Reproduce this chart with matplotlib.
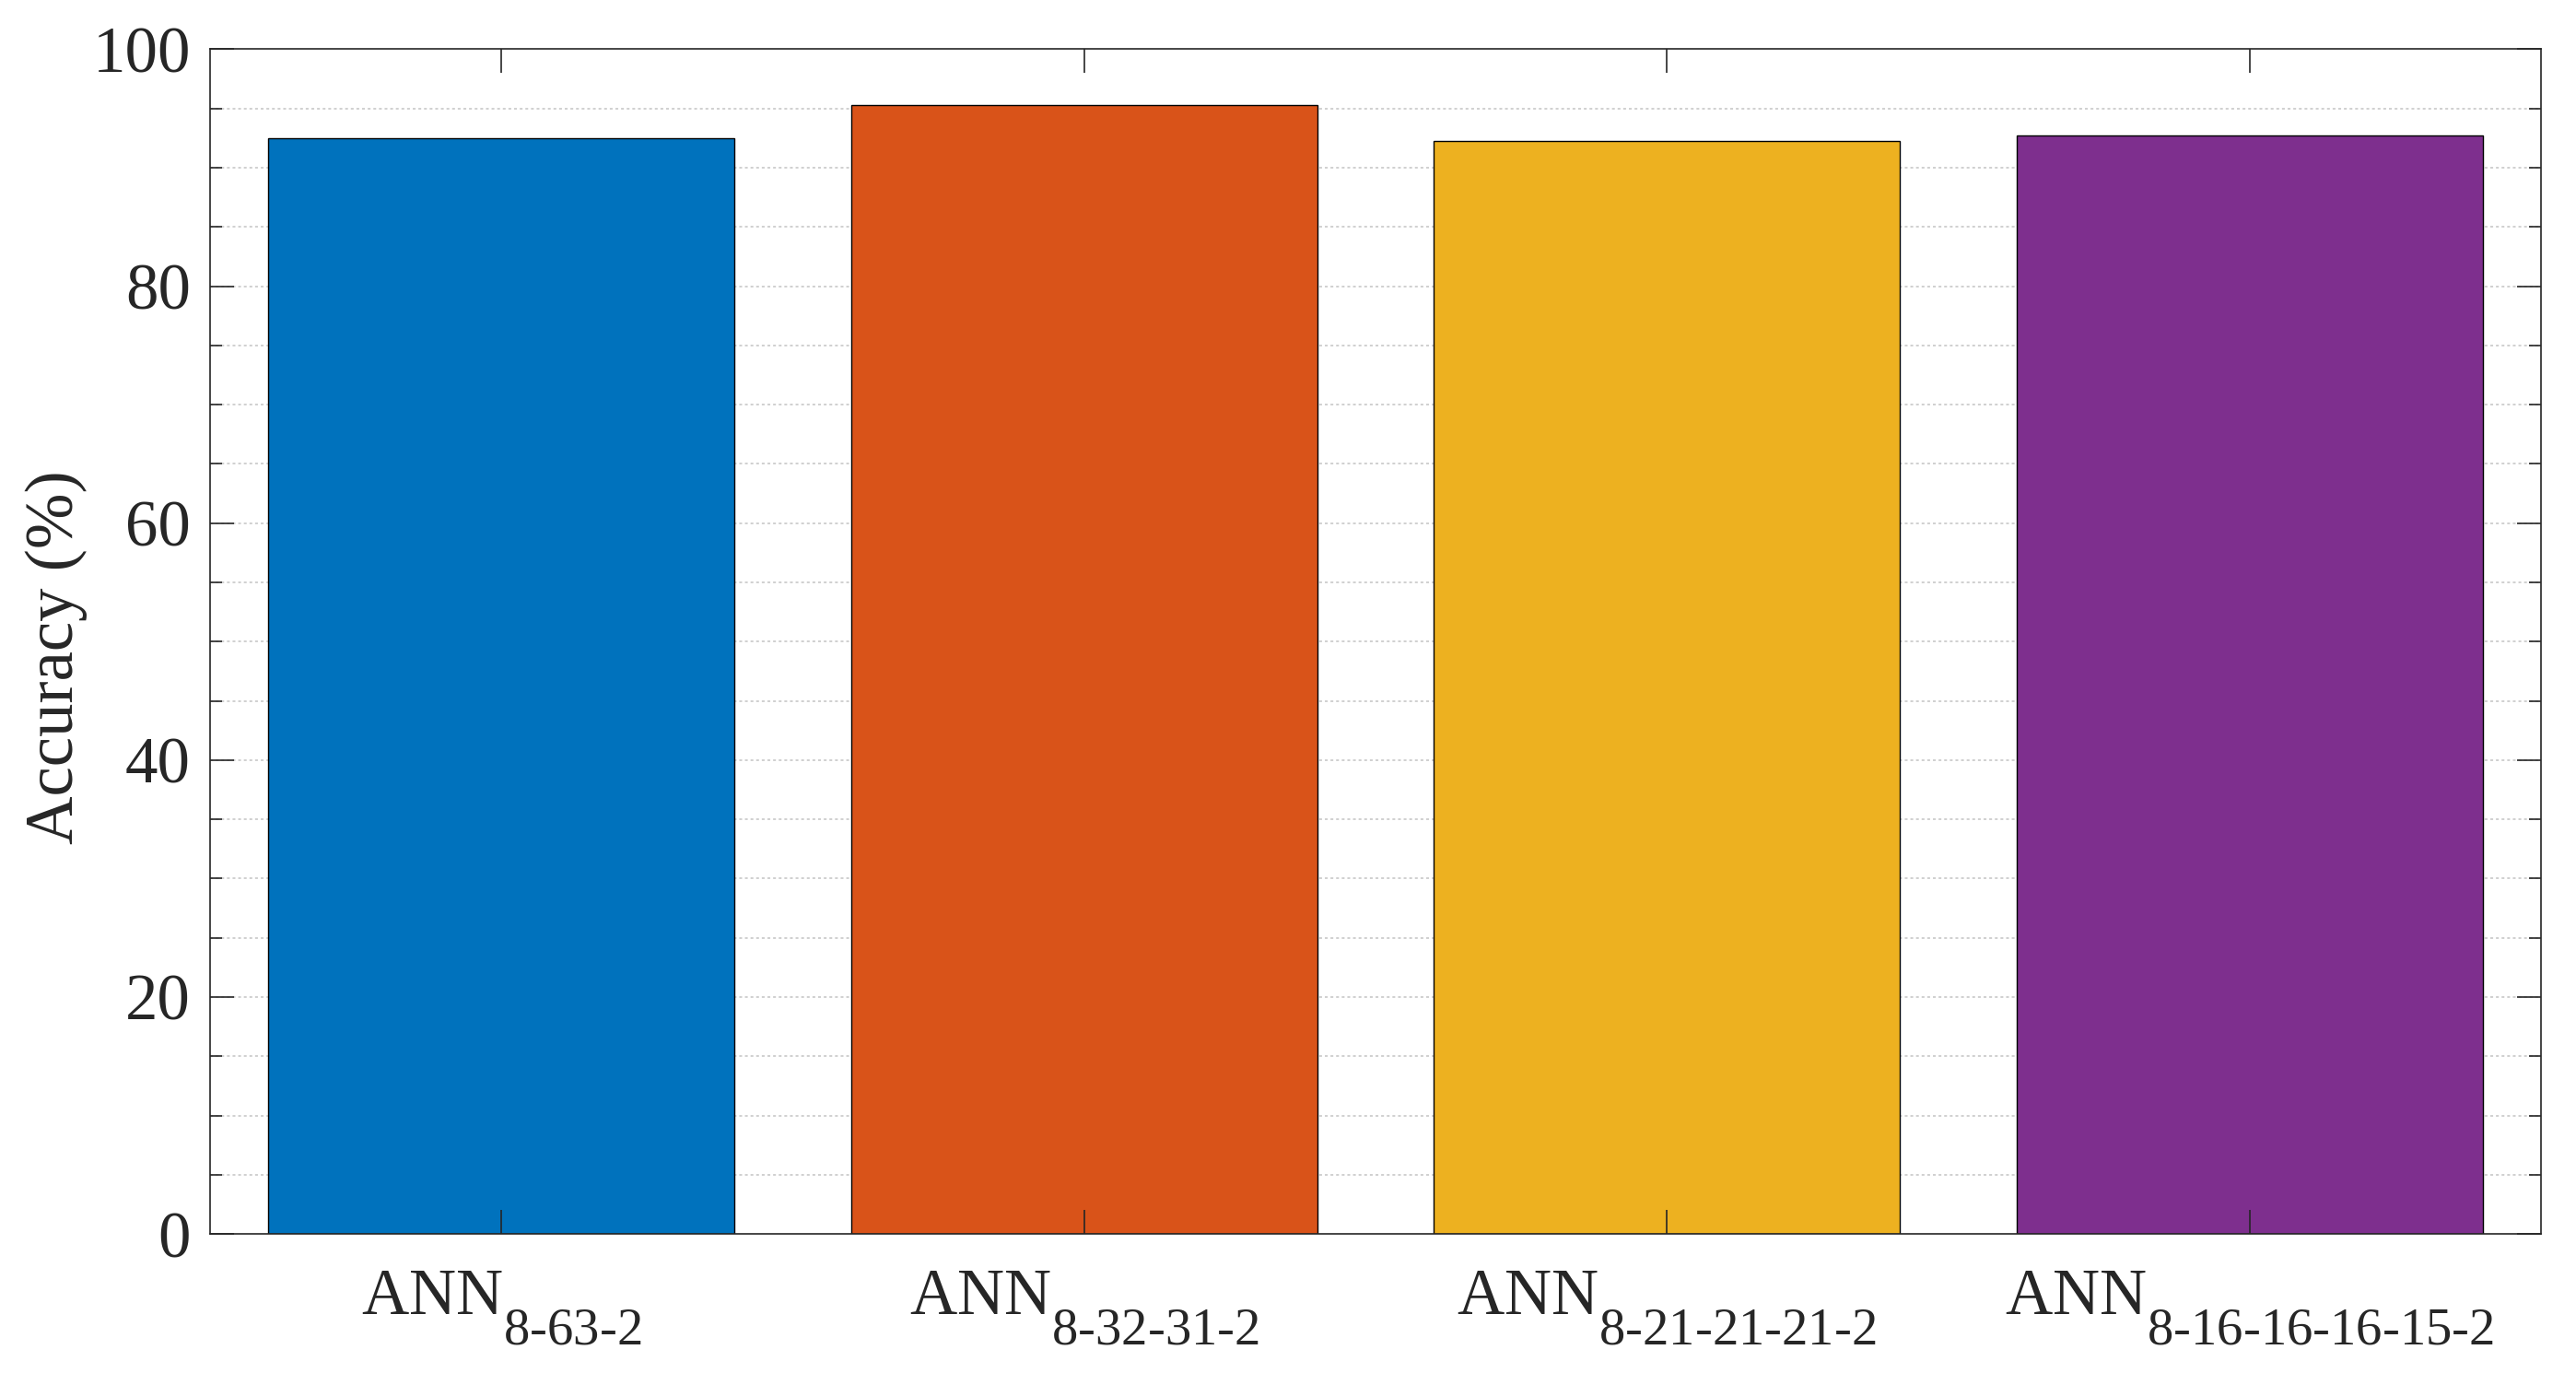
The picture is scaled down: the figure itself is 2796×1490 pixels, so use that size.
import matplotlib
matplotlib.use("Agg")
import matplotlib.pyplot as plt
import matplotlib._mathtext as _mt
import numpy as np
from matplotlib.ticker import MultipleLocator

# subscript look like the reference (larger, lower)
_mt.SHRINK_FACTOR = 0.8
try:
    _mt.FontConstantsBase.sub1 = 1.0
except Exception:
    pass

categories = ["8-63-2", "8-32-31-2", "8-21-21-21-2", "8-16-16-16-15-2"]
accuracy = [92.53, 95.28, 92.27, 92.73]
colors = ["#0072BD", "#D95319", "#EDB120", "#7E2F8E"]
yticks = [0, 20, 40, 60, 80, 100]

TXT = "#262626"
FONT = "Liberation Serif"
plt.rcParams["font.family"] = [FONT, "DejaVu Serif"]
plt.rcParams["mathtext.fontset"] = "custom"
plt.rcParams["mathtext.rm"] = FONT
plt.rcParams["mathtext.it"] = FONT + ":italic"
plt.rcParams["mathtext.bf"] = FONT + ":bold"

fig = plt.figure(figsize=(13.98, 7.45), dpi=200)
ax = fig.add_axes([0.0815, 0.1013, 0.9864 - 0.0815, 0.9641 - 0.1013])

x = np.arange(1, len(categories) + 1)
ax.bar(x, accuracy, width=0.8, color=colors, edgecolor="black", linewidth=0.5, zorder=1)

ax.set_xlim(0.5, 4.5)
ax.set_ylim(0, 100)
ax.set_xticks(x)
ax.set_xticklabels([r"$\mathregular{ANN}_{\text{%s}}$" % c for c in categories],
                   family=FONT)
ax.set_yticks(yticks)
ax.set_yticklabels([str(v) for v in yticks], family=FONT)
ax.yaxis.set_minor_locator(MultipleLocator(5))

# grid below bars
for yv in np.arange(5, 100, 5):
    ax.axhline(yv, color="#c4c4c4", linewidth=0.55, linestyle=(0, (2, 2)), zorder=0.4)

ax.set_axisbelow(False)
ax.tick_params(axis="both", which="major", direction="in", length=9.4, width=0.6,
               color=TXT, labelcolor=TXT, labelsize=25.5)
ax.tick_params(axis="x", which="both", top=True, pad=14)
ax.tick_params(axis="y", which="both", right=True, pad=7.5)
ax.tick_params(axis="y", which="minor", direction="in", length=4.7, width=0.6, color=TXT)
ax.tick_params(axis="x", which="minor", bottom=False, top=False)

for s in ax.spines.values():
    s.set_color(TXT)
    s.set_linewidth(0.6)

ax.set_ylabel("Accuracy (%)", fontsize=26.2, color=TXT, labelpad=2, family=FONT, y=0.487)

fig.savefig("out.png", dpi=200)
